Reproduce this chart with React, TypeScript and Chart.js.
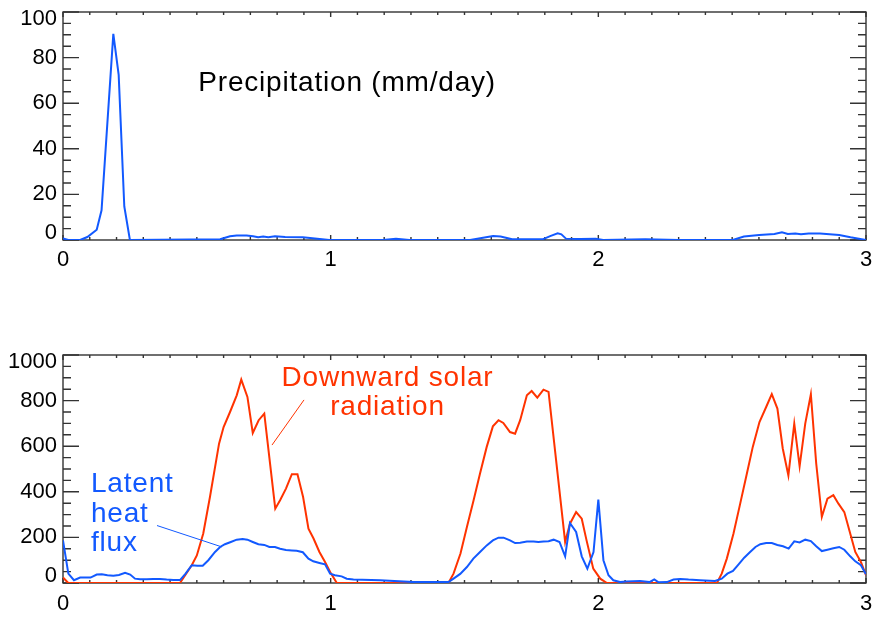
import React, { useEffect, useRef } from 'react';
import { Chart, registerables } from 'chart.js';

Chart.register(...registerables);

const FONT = '"Liberation Sans", Arial, Helvetica, sans-serif';
const BLUE = '#1259ff';
const RED = '#ff3300';

// ---------- data (x in days) ----------
const precipX = [0, 0.02, 0.064, 0.091, 0.126, 0.144, 0.188, 0.208, 0.229, 0.25, 0.587, 0.624, 0.649, 0.686, 0.71, 0.729, 0.748, 0.767, 0.792, 0.83, 0.896, 0.995, 1.195, 1.244, 1.294, 1.521, 1.607, 1.635, 1.678, 1.792, 1.82, 1.848, 1.862, 1.879, 1.933, 1.99, 2.018, 2.175, 2.3, 2.502, 2.544, 2.601, 2.658, 2.686, 2.708, 2.736, 2.757, 2.786, 2.828, 2.864, 2.9, 2.942, 3.0];
const precipY = [0.7, 0, 0, 1.3, 4.5, 13, 90.4, 72.4, 14.7, 0, 0.3, 1.6, 2, 2, 1.6, 1.2, 1.5, 1.2, 1.6, 1.3, 1.2, 0, 0, 0.6, 0, 0, 1.7, 1.5, 0.3, 0.3, 1.7, 2.9, 2.5, 0.6, 0.4, 0.6, 0, 0.3, 0, 0, 1.5, 2.2, 2.6, 3.4, 2.6, 2.8, 2.5, 2.9, 2.8, 2.5, 2.2, 1.2, 0];

const solarX = [0, 0.02, 0.437, 0.481, 0.5, 0.524, 0.549, 0.583, 0.6, 0.624, 0.649, 0.666, 0.689, 0.709, 0.731, 0.752, 0.793, 0.811, 0.833, 0.855, 0.876, 0.897, 0.917, 0.936, 0.958, 0.979, 0.998, 1.023, 1.44, 1.459, 1.485, 1.509, 1.534, 1.558, 1.583, 1.606, 1.627, 1.645, 1.67, 1.689, 1.708, 1.733, 1.751, 1.772, 1.795, 1.814, 1.876, 1.894, 1.917, 1.938, 1.956, 1.981, 2.007, 2.032, 2.443, 2.461, 2.48, 2.505, 2.53, 2.555, 2.577, 2.602, 2.627, 2.648, 2.669, 2.689, 2.71, 2.732, 2.752, 2.773, 2.794, 2.814, 2.835, 2.856, 2.878, 2.897, 2.919, 2.941, 2.96, 2.981, 3.0];
const solarY = [24, 0, 0, 78, 121, 217, 377, 611, 684, 750, 823, 892, 816, 658, 714, 743, 326, 363, 414, 477, 477, 377, 238, 195, 136, 92, 48, 0, 0, 41, 129, 246, 363, 480, 597, 687, 714, 702, 662, 655, 714, 823, 842, 813, 848, 838, 180, 260, 311, 282, 187, 63, 19, 0, 0, 41, 107, 217, 348, 480, 597, 706, 772, 828, 765, 590, 472, 699, 512, 699, 828, 524, 290, 370, 385, 348, 311, 217, 136, 92, 34];

const latentX = [0, 0.02, 0.041, 0.064, 0.086, 0.103, 0.126, 0.145, 0.166, 0.188, 0.209, 0.232, 0.251, 0.269, 0.288, 0.313, 0.337, 0.362, 0.387, 0.412, 0.437, 0.458, 0.481, 0.502, 0.522, 0.543, 0.568, 0.587, 0.605, 0.627, 0.649, 0.671, 0.689, 0.709, 0.73, 0.752, 0.771, 0.792, 0.811, 0.833, 0.855, 0.873, 0.896, 0.917, 0.935, 0.958, 0.979, 0.998, 1.016, 1.041, 1.06, 1.085, 1.185, 1.309, 1.44, 1.459, 1.484, 1.509, 1.533, 1.558, 1.583, 1.606, 1.627, 1.646, 1.67, 1.689, 1.708, 1.733, 1.758, 1.776, 1.795, 1.814, 1.833, 1.855, 1.876, 1.894, 1.917, 1.938, 1.959, 1.982, 2.0, 2.019, 2.038, 2.056, 2.081, 2.106, 2.156, 2.191, 2.209, 2.225, 2.256, 2.281, 2.306, 2.337, 2.38, 2.436, 2.461, 2.482, 2.503, 2.524, 2.545, 2.567, 2.587, 2.605, 2.627, 2.648, 2.669, 2.69, 2.711, 2.732, 2.752, 2.773, 2.794, 2.814, 2.835, 2.856, 2.878, 2.9, 2.919, 2.941, 2.96, 2.981, 3.0];
const latentY = [187, 41, 12, 24, 24, 24, 37, 38, 34, 32, 35, 45, 37, 19, 16, 16, 18, 18, 15, 13, 13, 41, 78, 76, 76, 100, 136, 158, 170, 180, 190, 193, 190, 180, 170, 167, 158, 158, 150, 145, 143, 141, 135, 107, 95, 88, 82, 41, 34, 29, 19, 15, 12, 4, 4, 19, 40, 70, 107, 136, 165, 187, 199, 199, 187, 175, 177, 182, 182, 180, 182, 183, 190, 180, 117, 263, 224, 117, 63, 136, 366, 100, 34, 12, 4, 7, 9, 4, 16, 3, 4, 15, 18, 15, 12, 9, 19, 41, 53, 82, 111, 136, 158, 170, 175, 175, 167, 161, 151, 183, 178, 190, 184, 161, 140, 146, 152, 158, 146, 117, 95, 78, 38];

// ---------- annotations (data coordinates) ----------
const topNotes = {
  texts: [{ text: 'Precipitation (mm/day)', x: 0.5055, y: 65.5, color: '#000', align: 'left' }],
  lines: [] as any[],
};
const bottomNotes = {
  texts: [
    { text: 'Downward solar', x: 1.2123, y: 864, color: RED, align: 'center' },
    { text: 'radiation', x: 1.2123, y: 737, color: RED, align: 'center' },
    { text: 'Latent', x: 0.1046, y: 400, color: BLUE, align: 'left' },
    { text: 'heat', x: 0.1046, y: 269, color: BLUE, align: 'left' },
    { text: 'flux', x: 0.1046, y: 142, color: BLUE, align: 'left' },
  ],
  lines: [
    { x1: 0.7808, y1: 605, x2: 0.9004, y2: 803, color: RED },
    { x1: 0.3512, y1: 252, x2: 0.594, y2: 158, color: BLUE },
  ],
};

const pts = (xs: number[], ys: number[]) => xs.map((x, i) => ({ x, y: ys[i] }));

const frameTicks = {
  id: 'frameTicks',
  beforeDraw(chart: any) {
    const ys = chart.scales.y;
    const items = ys.getLabelItems(chart.chartArea);
    if (items && items.length) {
      items[0].options.translation[1] -= 7;
      items[items.length - 1].options.translation[1] += 6.5;
    }
  },
  beforeDatasetsDraw(chart: any, _a: any, opts: any) {
    const { ctx, chartArea: a, scales } = chart;
    ctx.save();
    ctx.strokeStyle = '#333';
    ctx.lineWidth = 1.4;
    ctx.strokeRect(a.left, a.top, a.right - a.left, a.bottom - a.top);
    ctx.beginPath();
    const xs = scales.x;
    for (let k = 0; k <= 30; k++) {
      const px = xs.getPixelForValue(k / 10);
      const len = k % 10 === 0 ? opts.xMajor : opts.xMinor;
      ctx.moveTo(px, a.bottom);
      ctx.lineTo(px, a.bottom - len);
      ctx.moveTo(px, a.top);
      ctx.lineTo(px, a.top + len);
    }
    const ys = scales.y;
    const n = Math.round((ys.max - ys.min) / opts.yMinorStep);
    for (let k = 0; k <= n; k++) {
      const py = ys.getPixelForValue(ys.min + k * opts.yMinorStep);
      const len = k % opts.perMajor === 0 ? opts.yMajor : opts.yMinor;
      ctx.moveTo(a.left, py);
      ctx.lineTo(a.left + len, py);
      ctx.moveTo(a.right, py);
      ctx.lineTo(a.right - len, py);
    }
    ctx.stroke();
    ctx.restore();
  },
};

const notesPlugin = {
  id: 'notes',
  afterDatasetsDraw(chart: any, _a: any, opts: any) {
    const { ctx, scales } = chart;
    ctx.save();
    ctx.lineWidth = 1;
    (opts.lines || []).forEach((l: any) => {
      ctx.strokeStyle = l.color;
      ctx.beginPath();
      ctx.moveTo(scales.x.getPixelForValue(l.x1), scales.y.getPixelForValue(l.y1));
      ctx.lineTo(scales.x.getPixelForValue(l.x2), scales.y.getPixelForValue(l.y2));
      ctx.stroke();
    });
    ctx.font = `28px ${FONT}`;
    ctx.textBaseline = 'alphabetic';
    try { (ctx as any).letterSpacing = '0.8px'; } catch (e) {}
    (opts.texts || []).forEach((t: any) => {
      ctx.fillStyle = t.color;
      ctx.textAlign = t.align;
      ctx.fillText(t.text, scales.x.getPixelForValue(t.x), scales.y.getPixelForValue(t.y));
    });
    ctx.restore();
  },
};

function makeConfig(datasets: any[], yMax: number, yStep: number, yMinorStep: number, padTop: number, xHeight: number, xPad: number, notes: any) {
  const tickFont = { family: FONT, size: 22 };
  return {
    type: 'line' as const,
    data: { datasets },
    options: {
      responsive: false,
      animation: false as const,
      devicePixelRatio: 1,
      layout: { padding: { top: padTop, right: 10, left: 0, bottom: 0 } },
      elements: { point: { radius: 0 }, line: { tension: 0, borderWidth: 2 } },
      plugins: {
        legend: { display: false },
        tooltip: { enabled: false },
        frameTicks: { xMajor: 5, xMinor: 3, yMajor: 16, yMinor: 8, yMinorStep, perMajor: Math.round(yStep / yMinorStep) },
        notes,
      },
      scales: {
        x: {
          type: 'linear' as const,
          min: 0,
          max: 3,
          grid: { display: false, drawTicks: false },
          border: { display: false },
          ticks: { stepSize: 1, font: tickFont, color: '#000', padding: xPad, maxRotation: 0, autoSkip: false, callback: (v: any) => String(v) },
          afterFit: (s: any) => { s.height = xHeight; s.paddingLeft = 0; s.paddingRight = 0; },
        },
        y: {
          type: 'linear' as const,
          min: 0,
          max: yMax,
          grid: { display: false, drawTicks: false },
          border: { display: false },
          ticks: { stepSize: yStep, font: tickFont, color: '#000', padding: 6, callback: (v: any) => String(v) },
          afterFit: (s: any) => { s.width = 63; s.paddingTop = 0; s.paddingBottom = 0; },
        },
      },
    },
    plugins: [frameTicks, notesPlugin],
  };
}

export default function App() {
  const topRef = useRef<HTMLCanvasElement>(null);
  const botRef = useRef<HTMLCanvasElement>(null);

  useEffect(() => {
    const c1 = new Chart(topRef.current as HTMLCanvasElement, makeConfig(
      [{ data: pts(precipX, precipY), borderColor: BLUE, borderWidth: 2 }],
      100, 20, 5, 12, 60, 7, topNotes) as any);
    const c2 = new Chart(botRef.current as HTMLCanvasElement, makeConfig(
      [
        { data: pts(latentX, latentY), borderColor: BLUE, borderWidth: 2 },
        { data: pts(solarX, solarY), borderColor: RED, borderWidth: 2 },
      ],
      1000, 200, 50, 15, 37, 8, bottomNotes) as any);
    return () => { c1.destroy(); c2.destroy(); };
  }, []);

  return (
    <div style={{ position: 'absolute', left: 0, top: 0, width: 876, height: 620, background: '#fff' }}>
      <canvas ref={topRef} width={876} height={300} style={{ position: 'absolute', left: 0, top: 0 }} />
      <canvas ref={botRef} width={876} height={280} style={{ position: 'absolute', left: 0, top: 340 }} />
    </div>
  );
}
